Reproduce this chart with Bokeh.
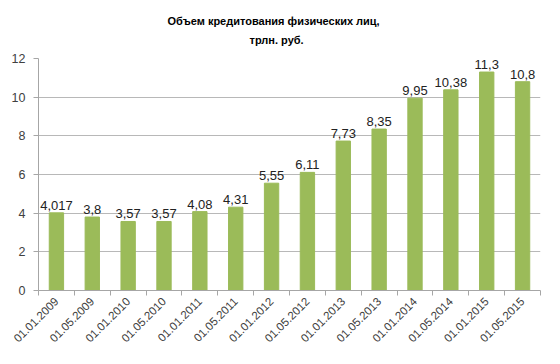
import math
from bokeh.plotting import figure
from bokeh.models import ColumnDataSource, FixedTicker, Title, Range1d
from bokeh.core.properties import value
from bokeh.embed import file_html
from bokeh.resources import INLINE

dates = ["01.01.2009", "01.05.2009", "01.01.2010", "01.05.2010", "01.01.2011",
         "01.05.2011", "01.01.2012", "01.05.2012", "01.01.2013", "01.05.2013",
         "01.01.2014", "01.05.2014", "01.01.2015", "01.05.2015"]
values = [4.017, 3.8, 3.57, 3.57, 4.08, 4.31, 5.55, 6.11, 7.73, 8.35, 9.95, 10.38, 11.3, 10.8]
y_ticks = [0, 2, 4, 6, 8, 10, 12]

FONT = "Liberation Sans"
TXT = "#404040"

xs = [i + 0.5 for i in range(len(dates))]
labels = [str(v).replace(".", ",") for v in values]
src = ColumnDataSource(dict(x=xs, top=values, label=labels))

p = figure(width=544, height=348, output_backend="svg", toolbar_location=None,
           x_range=Range1d(0, len(dates)), y_range=Range1d(0, 12),
           min_border_left=38, min_border_right=4, min_border_top=0,
           min_border_bottom=56)
p.outline_line_color = None
p.background_fill_color = "white"
p.border_fill_color = "white"

p.vbar(x="x", top="top", width=0.4, source=src, fill_color="#9BBB59",
       line_color="#9BBB59")
p.text(x="x", y="top", text="label", source=src, text_align="center",
       text_baseline="bottom", y_offset=-3, text_font=value(FONT),
       text_font_size="13px", text_color="#222222")

# x axis
p.xaxis.ticker = FixedTicker(ticks=xs, minor_ticks=list(range(len(dates) + 1)))
p.xaxis.major_label_overrides = {x: d for x, d in zip(xs, dates)}
p.xaxis.major_label_orientation = math.pi / 4
p.xaxis.major_tick_out = 0
p.xaxis.major_tick_in = 0
p.xaxis.minor_tick_out = 5
p.xaxis.minor_tick_in = 0
p.xaxis.minor_tick_line_color = "#a6a6a6"
p.xaxis.axis_line_color = "#a6a6a6"
p.xaxis.major_label_text_font = FONT
p.xaxis.major_label_text_font_size = "11.5px"
p.xaxis.major_label_text_color = TXT
p.xaxis.major_label_standoff = 4

# y axis
p.yaxis.ticker = FixedTicker(ticks=y_ticks)
p.yaxis.major_tick_out = 5
p.yaxis.major_tick_in = 0
p.yaxis.minor_tick_line_color = None
p.yaxis.major_tick_line_color = "#a6a6a6"
p.yaxis.axis_line_color = "#a6a6a6"
p.yaxis.major_label_text_font = FONT
p.yaxis.major_label_text_font_size = "12.5px"
p.yaxis.major_label_text_color = TXT
p.yaxis.major_label_standoff = 8

p.xgrid.grid_line_color = None
p.ygrid.grid_line_color = "#b8b8b8"
p.ygrid.ticker = FixedTicker(ticks=y_ticks)

sp_bottom = Title(text=" ", text_font=FONT, text_font_size="1px", standoff=7)
t2 = Title(text="трлн. руб.", align="left", offset=211, text_font=FONT,
           text_font_size="11px", text_font_style="bold", text_color="#000000",
           standoff=5)
t1 = Title(text="Объем кредитования физических лиц,", align="left", offset=129,
           text_font=FONT, text_font_size="11px", text_font_style="bold",
           text_color="#000000", standoff=5)
sp_top = Title(text=" ", text_font=FONT, text_font_size="1px", standoff=7)
p.add_layout(sp_bottom, "above")
p.add_layout(t2, "above")
p.add_layout(t1, "above")
p.add_layout(sp_top, "above")

open("out.html", "w").write(file_html(p, INLINE))
